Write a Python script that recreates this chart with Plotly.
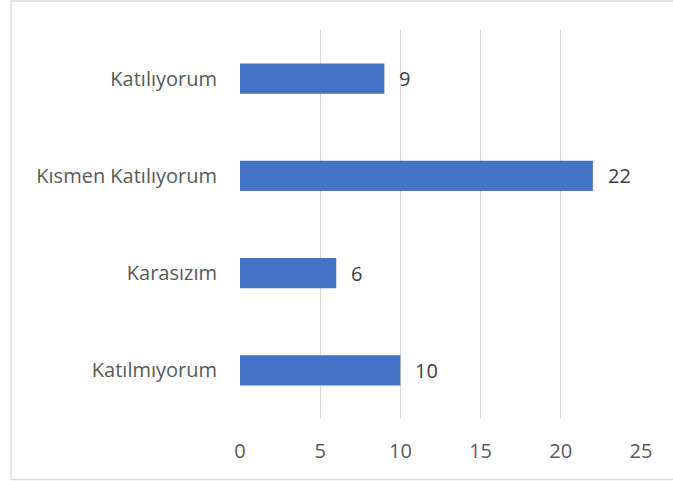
import plotly.graph_objects as go

categories = ["Katılıyorum", "Kısmen Katılıyorum", "Karasızım", "Katılmıyorum"]
values = [9, 22, 6, 10]
x_ticks = [0, 5, 10, 15, 20, 25]

TEXT = "#595959"
FONT = "Open Sans"
FS = 20

fig = go.Figure()
fig.add_trace(go.Bar(
    y=categories, x=values, orientation="h",
    marker=dict(color="#4472C4", line=dict(width=0)),
    width=0.31, hoverinfo="skip",
))

for c, v in zip(categories, values):
    fig.add_annotation(x=v, y=c, text=str(v), showarrow=False,
                       xanchor="left", xshift=13,
                       font=dict(family=FONT, size=FS, color="#404040"))

W, H = 673, 481
l, r, t, b = 240, 32, 30, 62
pw, ph = W - l - r, H - t - b

def px(xp):
    return (xp - l) / pw

def py(yp):
    return (H - b - yp) / ph

fig.add_shape(type="rect", xref="paper", yref="paper",
              x0=px(11), x1=px(690), y0=py(479.5), y1=py(1),
              line=dict(color="#D9D9D9", width=1.3), fillcolor="rgba(0,0,0,0)",
              layer="below")

fig.update_layout(
    width=W, height=H,
    margin=dict(l=l, r=r, t=t, b=b),
    paper_bgcolor="white", plot_bgcolor="white",
    showlegend=False,
    font=dict(family=FONT, size=FS, color=TEXT),
    xaxis=dict(range=[0, 25], tickvals=x_ticks, showgrid=True,
               gridcolor="#D9D9D9", gridwidth=1.4, zeroline=False,
               showline=False, ticks="", ticklabelstandoff=18,
               tickfont=dict(family=FONT, size=FS, color=TEXT)),
    yaxis=dict(categoryorder="array", categoryarray=categories[::-1],
               showgrid=False, zeroline=False, showline=False, ticks="",
               ticklabelstandoff=22,
               tickfont=dict(family=FONT, size=FS, color=TEXT)),
)

fig.write_html("out.html", config={"displayModeBar": False},
               post_script="document.body.style.margin='0';")
